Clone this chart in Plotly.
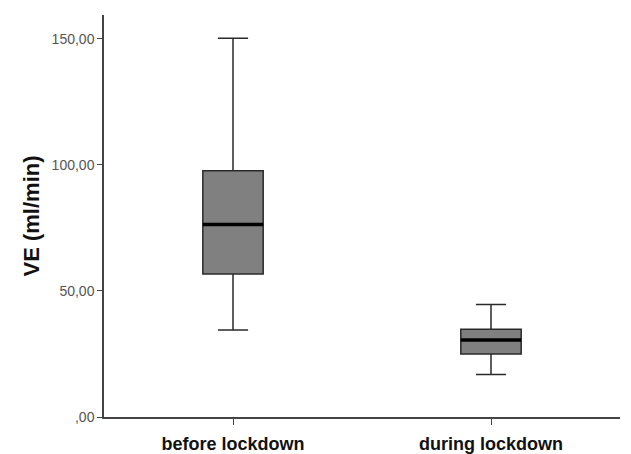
import plotly.graph_objects as go

# Five-number summaries of minute ventilation per period
categories = ["before lockdown", "during lockdown"]
lower_whisker = [34.5, 16.9]
q1 = [56.7, 25.0]
median = [76.4, 30.6]
q3 = [97.7, 34.8]
upper_whisker = [150.3, 44.6]

y_tick_values = [0, 50, 100, 150]
y_tick_labels = [",00", "50,00", "100,00", "150,00"]

BOX_WIDTH = 0.234
positions = list(range(len(categories)))

fig = go.Figure()

fig.add_trace(go.Box(
    x=positions,
    q1=q1,
    median=median,
    q3=q3,
    lowerfence=lower_whisker,
    upperfence=upper_whisker,
    width=BOX_WIDTH,
    whiskerwidth=0.5,
    fillcolor="#808080",
    line=dict(color="#2a2a2a", width=1.5),
    boxpoints=False,
    hoverinfo="skip",
    showlegend=False,
))

# Heavy median bars drawn on top of each box
for xi, m in zip(positions, median):
    fig.add_trace(go.Scatter(
        x=[xi - BOX_WIDTH / 2, xi + BOX_WIDTH / 2],
        y=[m, m],
        mode="lines",
        line=dict(color="#000000", width=3.5),
        hoverinfo="skip",
        showlegend=False,
    ))

fig.update_layout(
    width=631,
    height=454,
    margin=dict(l=104, r=11, t=15, b=37),
    paper_bgcolor="white",
    plot_bgcolor="white",
    font=dict(family="Arial, Liberation Sans, sans-serif", color="#000"),
    xaxis=dict(
        range=[-0.5, 1.5],
        tickvals=positions,
        ticktext=[f"<b>{c}</b>" for c in categories],
        automargin=False,
        showgrid=False,
        zeroline=False,
        showline=True,
        linecolor="#444",
        linewidth=1.5,
        ticks="outside",
        ticklen=6,
        tickcolor="#444",
        ticklabelstandoff=4,
        tickfont=dict(size=18, color="#111"),
    ),
    yaxis=dict(
        range=[0, 159.5],
        tickvals=y_tick_values,
        ticktext=y_tick_labels,
        automargin=False,
        showgrid=False,
        zeroline=False,
        showline=True,
        linecolor="#444",
        linewidth=1.5,
        ticks="outside",
        ticklen=5,
        tickcolor="#444",
        tickfont=dict(size=14, color="#555"),
        title=dict(text="<b>VE (ml/min)</b>", font=dict(size=22, color="#111"), standoff=6),
    ),
)

fig.write_html("out.html")
